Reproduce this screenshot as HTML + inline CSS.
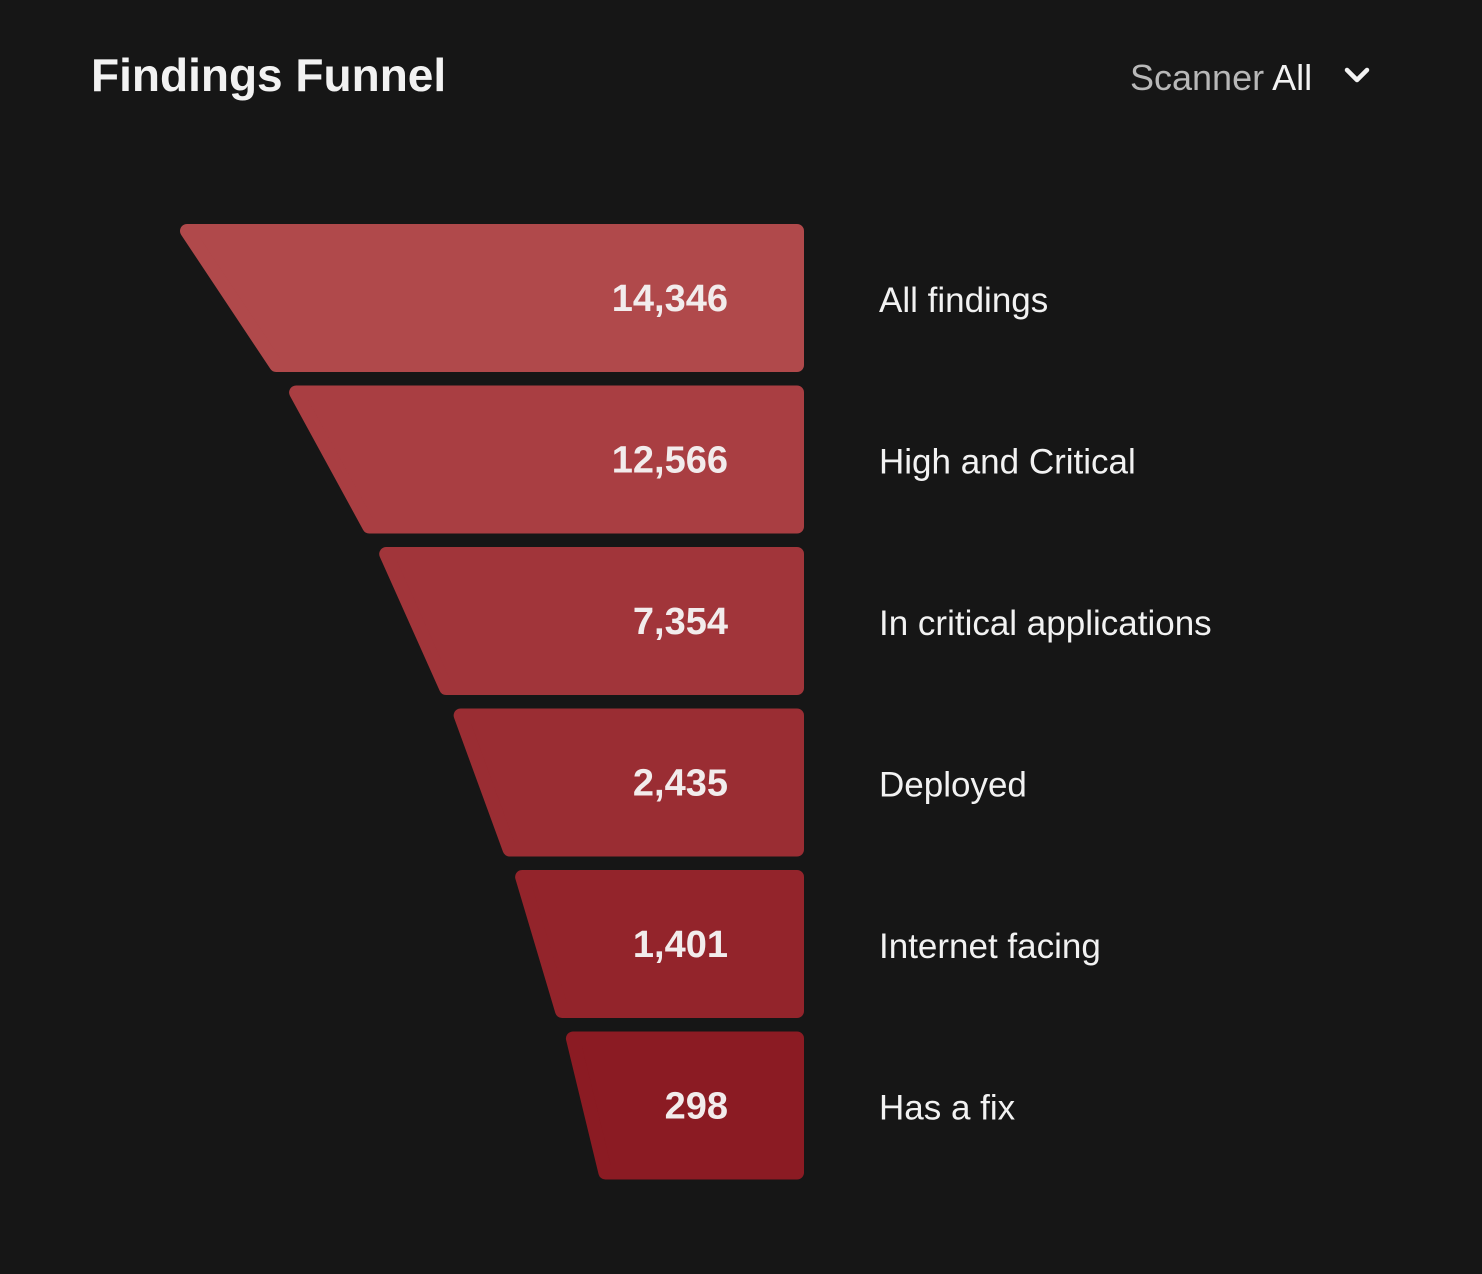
<!DOCTYPE html>
<html><head><meta charset="utf-8">
<style>
html,body{margin:0;padding:0;background:#161616;}
body{width:1482px;height:1274px;position:relative;overflow:hidden;font-family:"Liberation Sans",sans-serif;}
#title{position:absolute;left:91px;top:48px;font-size:46px;font-weight:bold;color:#f2f2f2;letter-spacing:0px;}
#scanner{position:absolute;left:1130px;top:57px;font-size:36px;color:#b8b8b8;}
#scanner span{color:#f2f2f2;margin-left:8px;}
#chev{position:absolute;left:1343px;top:64px;}
svg#chart{position:absolute;left:0;top:0;}
</style></head><body>
<div id="title">Findings Funnel</div>
<div id="scanner">Scanner<span>All</span></div>
<svg id="chev" width="28" height="24"><polyline points="4,6 14,16 24,6" fill="none" stroke="#f2f2f2" stroke-width="4.5" stroke-linecap="round" stroke-linejoin="round"/></svg>
<svg id="chart" width="1482" height="1274"></svg>
<script>
const stages = ["All findings","High and Critical","In critical applications","Deployed","Internet facing","Has a fix"];
const counts = [14346,12566,7354,2435,1401,298];
const colors = ["#b0494b","#a93e42","#a1353a","#9a2d33","#93242b","#8b1b23"];

const svg = document.getElementById('chart');
const NS = "http://www.w3.org/2000/svg";
const right = 804, top0 = 224, step = 161.5, h = 148;
const topW0 = 627, ratio = 0.826, bottomRatio = 0.853;
// width depends on rank in funnel, scaled gently by value relative to first stage
function topWidth(i){
  return topW0 * Math.pow(ratio, i);
}
const fmt = v => v.toLocaleString('en-US');
counts.forEach((v,i)=>{
  const y = top0 + i*step;
  const tw = topWidth(i), bw = tw*bottomRatio;
  const r = 7;
  const x1 = right - tw, x2 = right - bw;
  const p = document.createElementNS(NS,'polygon');
  p.setAttribute('points', `${x1+r+3},${y+r} ${right-r},${y+r} ${right-r},${y+h-r} ${x2+r},${y+h-r}`);
  p.setAttribute('fill', colors[i]);
  p.setAttribute('stroke', colors[i]);
  p.setAttribute('stroke-width', 2*r);
  p.setAttribute('stroke-linejoin','round');
  
  
  svg.appendChild(p);
  const t = document.createElementNS(NS,'text');
  t.setAttribute('x', 728);
  t.setAttribute('y', y + h/2 + 13);
  t.setAttribute('text-anchor','end');
  t.setAttribute('font-family','Liberation Sans, sans-serif');
  t.setAttribute('font-size','38');
  t.setAttribute('font-weight','bold');
  t.setAttribute('fill','#f2ecec');
  t.textContent = fmt(v);
  
  
  svg.appendChild(t);
  const l = document.createElementNS(NS,'text');
  l.setAttribute('x', 879);
  l.setAttribute('y', y + h/2 + 14);
  l.setAttribute('font-family','Liberation Sans, sans-serif');
  l.setAttribute('font-size','35');
  l.setAttribute('fill','#f2f2f2');
  l.textContent = stages[i];
  
  
  svg.appendChild(l);
});
</script>
</body></html>
